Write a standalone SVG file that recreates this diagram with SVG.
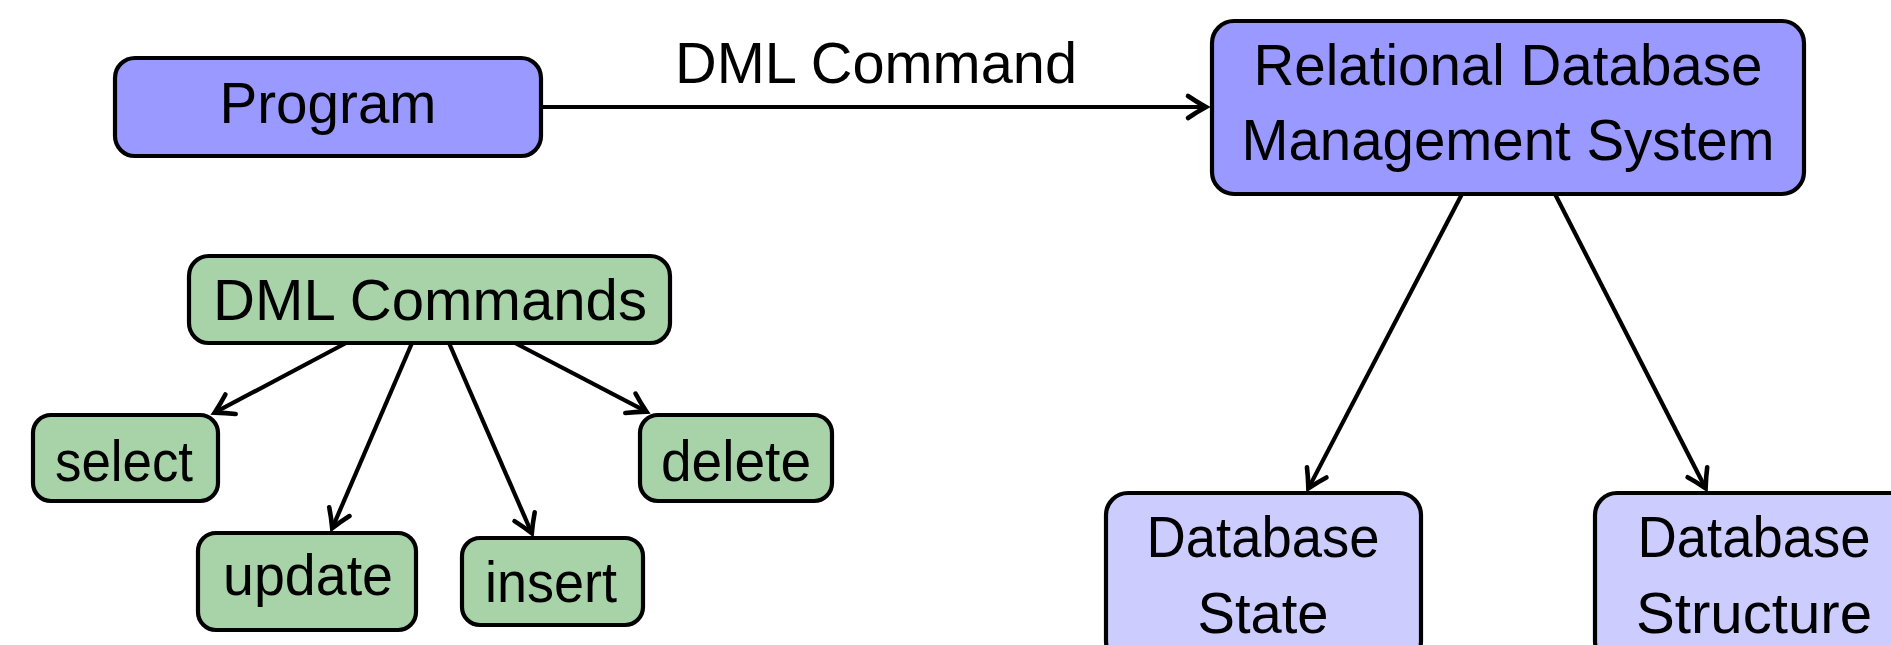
<svg xmlns="http://www.w3.org/2000/svg" width="1891" height="645" viewBox="0 0 1891 645">
<style>
  .box { stroke: #000; stroke-width: 4.2; }
  .blue { fill: #9999ff; }
  .lblue { fill: #ccccff; }
  .green { fill: #a8d3a8; }
  .t { font-family: "Liberation Sans", Arial, sans-serif; font-size: 58px; fill: #000; text-anchor: middle; }
  .edge { stroke: #000; stroke-width: 4.2; fill: none; marker-end: url(#arr); }
</style>
<defs>
  <marker id="arr" markerUnits="userSpaceOnUse" viewBox="-30 -16 36 32" markerWidth="36" markerHeight="32" refX="-5" refY="0" orient="auto" overflow="visible">
    <path d="M-21,-11 C-13,-5.5 -7,-2.2 -3,0 C-7,2.2 -13,5.5 -21,11" fill="none" stroke="#000" stroke-width="4.6" stroke-linecap="round" stroke-linejoin="miter" stroke-miterlimit="10"/>
  </marker>
</defs>
<g id="connectors">
  <path class="edge" d="M541,107 L1204,107"/>
  <path class="edge" d="M1462,194 L1309.3,486.6"/>
  <path class="edge" d="M1555,194 L1704.7,486.5"/>
  <path class="edge" d="M346,343 L216.4,411.7"/>
  <path class="edge" d="M412,343 L333,526.4"/>
  <path class="edge" d="M449,343 L531,531.4"/>
  <path class="edge" d="M515,343 L644.6,410.7"/>
  <text class="t" x="876" y="83" textLength="402" lengthAdjust="spacingAndGlyphs">DML Command</text>
</g>
<g id="program">
  <rect class="box blue" x="115" y="58" width="426" height="98" rx="20" ry="20"/>
  <text class="t" x="328" y="123" textLength="217" lengthAdjust="spacingAndGlyphs">Program</text>
</g>
<g id="rdbms">
  <rect class="box blue" x="1212" y="21" width="592" height="173" rx="22" ry="22"/>
  <text class="t" x="1508" y="85" textLength="509" lengthAdjust="spacingAndGlyphs">Relational Database</text>
  <text class="t" x="1508" y="160" textLength="533" lengthAdjust="spacingAndGlyphs">Management System</text>
</g>
<g id="dbstate">
  <rect class="box lblue" x="1106" y="493" width="315" height="170" rx="22" ry="22"/>
  <text class="t" x="1263" y="557" textLength="233" lengthAdjust="spacingAndGlyphs">Database</text>
  <text class="t" x="1263" y="633" textLength="131" lengthAdjust="spacingAndGlyphs">State</text>
</g>
<g id="dbstructure">
  <rect class="box lblue" x="1595" y="493" width="318" height="170" rx="22" ry="22"/>
  <text class="t" x="1754" y="557" textLength="233" lengthAdjust="spacingAndGlyphs">Database</text>
  <text class="t" x="1754" y="633" textLength="236" lengthAdjust="spacingAndGlyphs">Structure</text>
</g>
<g id="dmlcommands">
  <rect class="box green" x="189" y="256" width="481" height="87" rx="20" ry="20"/>
  <text class="t" x="430" y="320" textLength="434" lengthAdjust="spacingAndGlyphs">DML Commands</text>
</g>
<g id="select">
  <rect class="box green" x="33" y="415" width="185" height="86" rx="18" ry="18"/>
  <text class="t" x="124" y="481" textLength="138" lengthAdjust="spacingAndGlyphs">select</text>
</g>
<g id="delete">
  <rect class="box green" x="640" y="415" width="192" height="86" rx="18" ry="18"/>
  <text class="t" x="736" y="481" textLength="150" lengthAdjust="spacingAndGlyphs">delete</text>
</g>
<g id="update">
  <rect class="box green" x="198" y="533" width="218" height="97" rx="18" ry="18"/>
  <text class="t" x="308" y="595" textLength="170" lengthAdjust="spacingAndGlyphs">update</text>
</g>
<g id="insert">
  <rect class="box green" x="462" y="538" width="181" height="87" rx="18" ry="18"/>
  <text class="t" x="551" y="602" textLength="132" lengthAdjust="spacingAndGlyphs">insert</text>
</g>
</svg>
